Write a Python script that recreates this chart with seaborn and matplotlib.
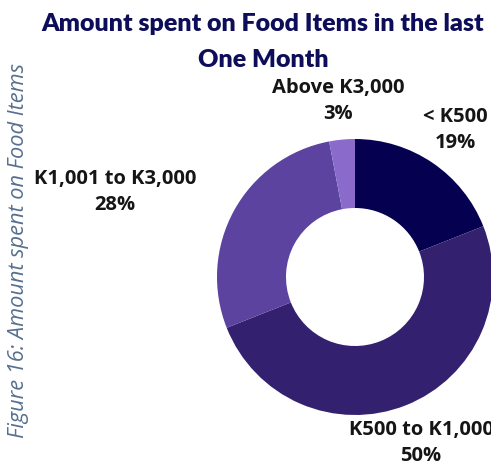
import matplotlib
matplotlib.use("Agg")
import matplotlib.pyplot as plt
import seaborn as sns

categories = ["< K500", "K500 to K1,000", "K1,001 to K3,000", "Above K3,000"]
shares = [19, 50, 28, 3]
colors = ["#050050", "#33206f", "#5c43a0", "#8a6bcb"]

sns.set_theme(style="white")
plt.rcParams["font.family"] = ["Lato", "DejaVu Sans"]

fig = plt.figure(figsize=(4.91, 4.63), dpi=100)
ax = fig.add_axes([0, 0, 1, 1])

wedges, _ = ax.pie(shares, colors=colors, startangle=90, counterclock=False,
                   center=(355, 186), radius=138,
                   wedgeprops=dict(width=69, edgecolor="none"))
ax.set_xlim(0, 491)
ax.set_ylim(0, 463)
ax.set_aspect("equal")
ax.axis("off")

# label positions (pixels from top-left)
label_pos = [(455, 130), (421, 443), (115, 192), (338, 101)]
for cat, val, (x, y) in zip(categories, shares, label_pos):
    ax.text(x, 463 - y, f"{cat}\n{val}%", ha="center", va="center",
            fontsize=14.5, fontweight="bold", color="#151515", linespacing=1.35,
            family=["Open Sans", "DejaVu Sans"])

fig.text(263 / 491, 1 - 42 / 463,
         "Amount spent on Food Items in the last\nOne Month",
         ha="center", va="center", fontsize=18, fontweight="heavy",
         color="#0d0d5a", linespacing=1.75)

fig.text(19 / 491, 1 - 251 / 463, "Figure 16: Amount spent on Food Items",
         rotation=90, ha="center", va="center", fontsize=15.7, style="italic",
         color="#56708f", family=["Open Sans", "DejaVu Sans"])

fig.savefig("out.png", dpi=100)
